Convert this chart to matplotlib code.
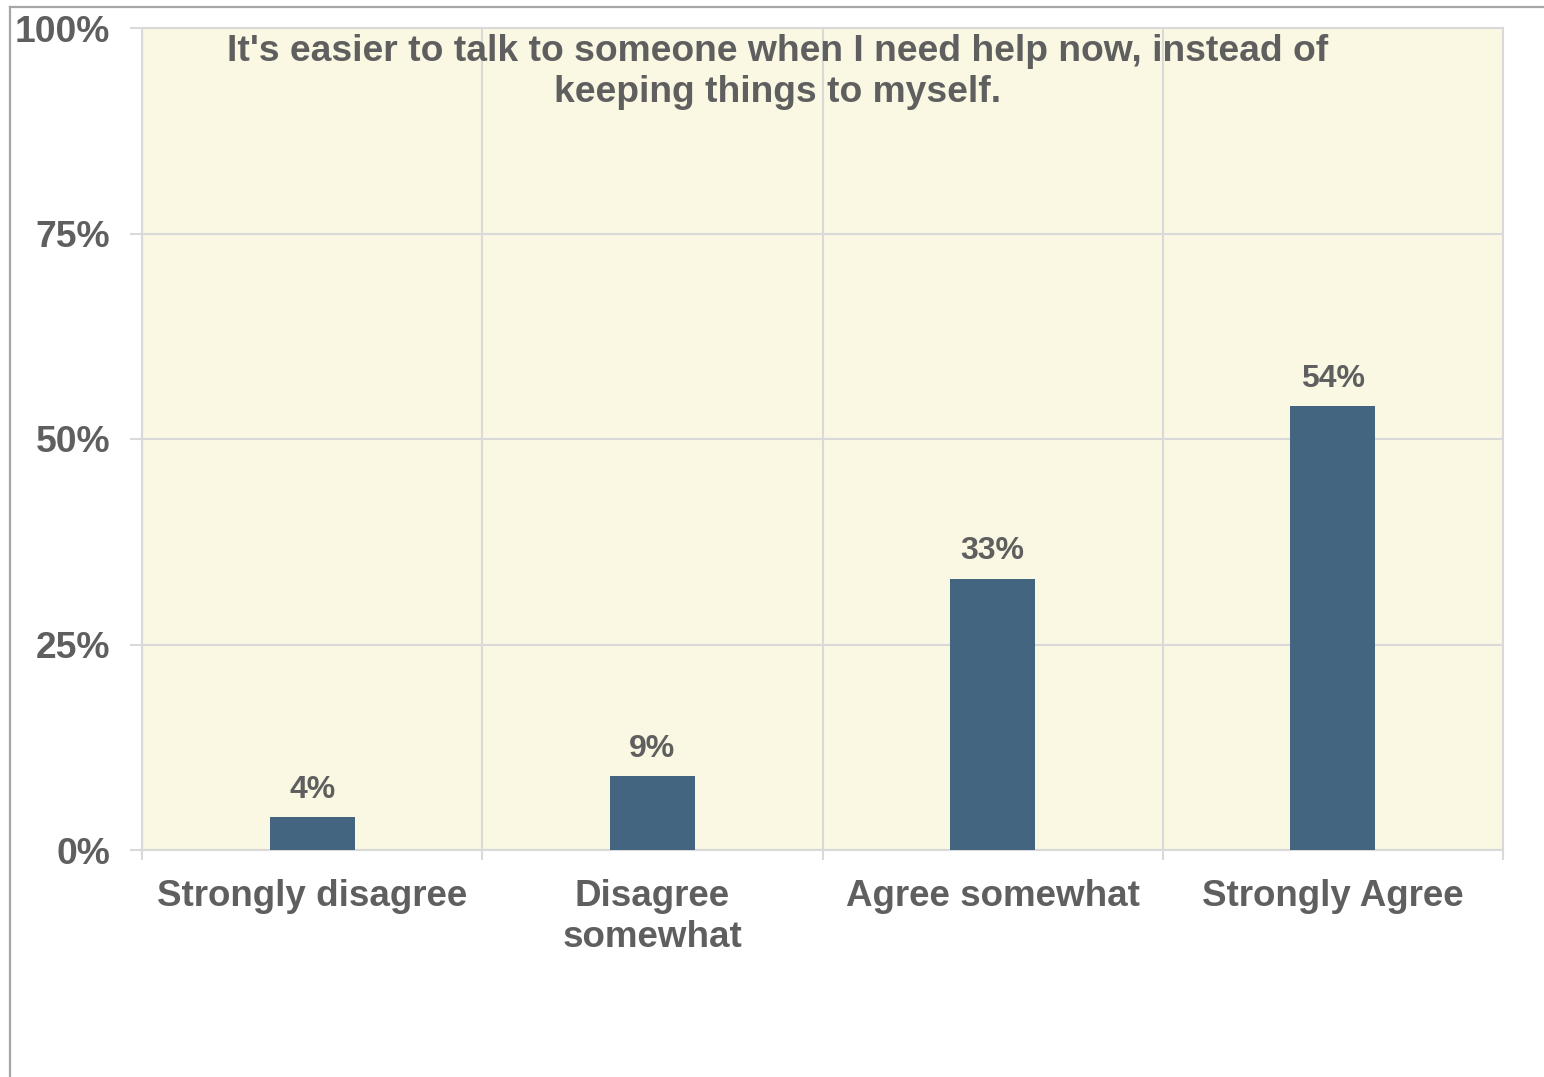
import numpy as np
import matplotlib
matplotlib.use("Agg")
import matplotlib.pyplot as plt
from matplotlib.lines import Line2D
from matplotlib.ticker import FixedLocator, NullFormatter

# --- Data ---------------------------------------------------------------------
CATEGORIES = ["Strongly disagree", "Disagree\nsomewhat", "Agree somewhat", "Strongly Agree"]
VALUES     = [4, 9, 33, 54]
Y_TICKS    = [0, 25, 50, 75, 100]
TITLE      = "It's easier to talk to someone when I need help now, instead of\nkeeping things to myself."

# --- Style --------------------------------------------------------------------
TEXT_COLOR = "#5f5f5f"
BAR_COLOR  = "#44657f"
PLOT_BG    = "#faf7e2"
GRID_COLOR = "#d9d9d9"
FRAME      = "#a6a6a6"
FONT       = ["Liberation Sans", "DejaVu Sans"]

plt.rcParams["font.family"] = FONT
plt.rcParams["font.weight"] = "bold"

W, H = 1544, 1077
fig = plt.figure(figsize=(W / 100, H / 100), dpi=100)
fig.patch.set_facecolor("white")

ax = fig.add_axes([142 / W, 1 - 850 / H, (1503 - 142) / W, (850 - 28) / H])
ax.set_facecolor(PLOT_BG)

x = np.arange(len(CATEGORIES))
bars = ax.bar(x, VALUES, width=0.25, color=BAR_COLOR, zorder=3)

ax.set_xlim(-0.5, len(CATEGORIES) - 0.5)
ax.set_ylim(0, 100)

# category boundaries carry the ticks and vertical grid; labels sit on minor ticks
ax.xaxis.set_major_locator(FixedLocator(np.arange(-0.5, len(CATEGORIES), 1.0)))
ax.xaxis.set_major_formatter(NullFormatter())
ax.xaxis.set_minor_locator(FixedLocator(x))
ax.set_xticklabels(CATEGORIES, minor=True)
ax.tick_params(axis="x", which="major", length=7.5, width=1.5, color=GRID_COLOR, direction="out")
ax.tick_params(axis="x", which="minor", length=0, pad=21, labelsize=26.5, labelcolor=TEXT_COLOR)

ax.set_yticks(Y_TICKS)
ax.set_yticklabels([f"{v}%" for v in Y_TICKS])
ax.tick_params(axis="y", length=9, width=1.5, color=GRID_COLOR, pad=14,
               labelsize=26.8, labelcolor=TEXT_COLOR)

ax.grid(True, which="major", color=GRID_COLOR, linewidth=1.5, zorder=0)
ax.set_axisbelow(True)
for spine in ax.spines.values():
    spine.set_color(GRID_COLOR)
    spine.set_linewidth(1.5)

for rect, val in zip(bars, VALUES):
    ax.annotate(f"{val}%", (rect.get_x() + rect.get_width() / 2, val),
                xytext=(0, 9), textcoords="offset points",
                ha="center", va="bottom", fontsize=23, fontweight="bold",
                color=TEXT_COLOR)

fig.text(778 / W, 1 - 34 / H, TITLE, ha="center", va="top", multialignment="center",
         fontsize=26.8, fontweight="bold", color=TEXT_COLOR, linespacing=1.22)

# outer frame, clipped by the image on the right and bottom
fy = 1 - 6.5 / H
fx = 9.5 / W
fig.add_artist(Line2D([fx, fx], [0, fy], transform=fig.transFigure, color=FRAME, linewidth=1.6))
fig.add_artist(Line2D([fx, 1], [fy, fy], transform=fig.transFigure, color=FRAME, linewidth=1.6))

fig.savefig("out.png", dpi=100, facecolor=fig.get_facecolor())
